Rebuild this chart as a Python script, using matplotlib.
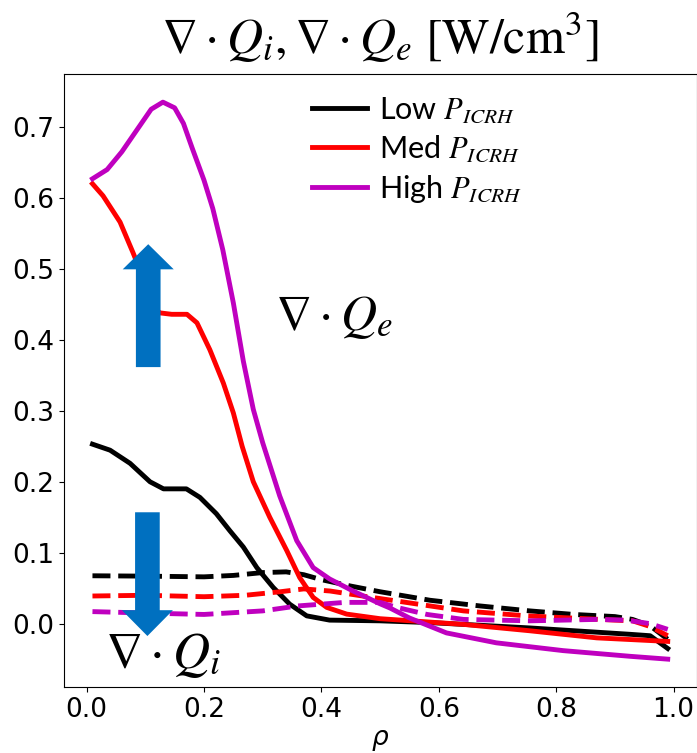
import matplotlib
matplotlib.use("Agg")
import matplotlib.pyplot as plt
from matplotlib.patches import FancyArrow

# ---- data ----
rho_low = [0.01, 0.04, 0.074, 0.108, 0.131, 0.17, 0.193, 0.221, 0.244, 0.267, 0.29, 0.318,
           0.346, 0.375, 0.414, 0.5, 0.585, 0.755, 0.926, 0.96, 0.99]
qe_low = [0.253, 0.2445, 0.226, 0.200, 0.190, 0.190, 0.178, 0.155, 0.131, 0.108, 0.079, 0.051,
          0.0275, 0.011, 0.005, 0.004, 0.0015, -0.006, -0.015, -0.017, -0.035]

rho_med = [0.01, 0.028, 0.057, 0.079, 0.10, 0.115, 0.125, 0.145, 0.171, 0.188, 0.21, 0.233,
           0.25, 0.265, 0.284, 0.312, 0.341, 0.363, 0.386, 0.409, 0.443, 0.5, 0.642, 0.755,
           0.869, 0.99]
qe_med = [0.620, 0.603, 0.566, 0.523, 0.48, 0.445, 0.438, 0.436, 0.436, 0.424, 0.386, 0.339,
          0.297, 0.250, 0.200, 0.150, 0.103, 0.065, 0.037, 0.023, 0.0135, 0.007, -0.001, -0.010,
          -0.020, -0.025]

rho_high = [0.01, 0.035, 0.06, 0.085, 0.11, 0.13, 0.15, 0.165, 0.18, 0.20, 0.215, 0.232, 0.25,
            0.267, 0.284, 0.30, 0.329, 0.358, 0.386, 0.414, 0.454, 0.5, 0.517, 0.55,
            0.613, 0.698, 0.812, 0.926, 0.99]
qe_high = [0.627, 0.640, 0.665, 0.695, 0.725, 0.735, 0.727, 0.705, 0.670, 0.625, 0.585, 0.527,
           0.452, 0.370, 0.302, 0.255, 0.180, 0.117, 0.079, 0.063, 0.046, 0.028, 0.022,
           0.008, -0.013, -0.027, -0.038, -0.046, -0.050]

rho_low_i = [0.01, 0.1, 0.2, 0.25, 0.3, 0.34, 0.37, 0.4, 0.45, 0.5, 0.585, 0.67, 0.755, 0.83,
             0.9, 0.93, 0.96, 0.99]
qi_low = [0.0675, 0.067, 0.066, 0.068, 0.072, 0.073, 0.069, 0.062, 0.053, 0.045, 0.033, 0.025,
          0.018, 0.013, 0.010, 0.006, -0.003, -0.022]

rho_med_i = [0.01, 0.1, 0.2, 0.27, 0.33, 0.37, 0.415, 0.47, 0.528, 0.642, 0.75, 0.812, 0.9,
             0.93, 0.96, 0.99]
qi_med = [0.039, 0.040, 0.038, 0.040, 0.045, 0.049, 0.046, 0.039, 0.032, 0.018, 0.011, 0.0085,
          0.005, 0.004, -0.004, -0.017]

rho_high_i = [0.01, 0.1, 0.2, 0.3, 0.36, 0.44, 0.5, 0.528, 0.58, 0.642, 0.755, 0.869, 0.92,
              0.96, 0.99]
qi_high = [0.017, 0.015, 0.013, 0.018, 0.025, 0.030, 0.030, 0.023, 0.013, 0.006, 0.004, 0.006,
           0.005, 0.0, -0.008]

labels = ["Low $P_{ICRH}$", "Med $P_{ICRH}$", "High $P_{ICRH}$"]
colors = ["k", "r", "m"]

fig = plt.figure(figsize=(6.97, 7.53), dpi=100)
ax = fig.add_axes([63.7 / 697, 66 / 753, 632.8 / 697, 612.7 / 753])

series = [(rho_low, qe_low, rho_low_i, qi_low),
          (rho_med, qe_med, rho_med_i, qi_med),
          (rho_high, qe_high, rho_high_i, qi_high)]
handles = []
for (re, qe, ri, qi), c, lab in zip(series, colors, labels):
    h, = ax.plot(re, qe, color=c, lw=3.5, label=lab)
    ax.plot(ri, qi, color=c, lw=3.5, ls="--")
    handles.append(h)

ax.set_xticks([0.0, 0.2, 0.4, 0.6, 0.8, 1.0])
ax.set_yticks([0.0, 0.1, 0.2, 0.3, 0.4, 0.5, 0.6, 0.7])
ax.tick_params(labelsize=19)
ax.set_xlabel(r"$\rho$", fontsize=19, labelpad=3)

# arrows
blue = "#0070C0"
ax.add_patch(FancyArrow(0.105, 0.3616, 0, 0.5348 - 0.3616, width=0.042, head_width=0.0869,
                        head_length=0.0354, length_includes_head=True, color=blue, lw=0, zorder=5))
ax.add_patch(FancyArrow(0.1036, 0.157, 0, -0.0174 - 0.157, width=0.042, head_width=0.0869,
                        head_length=0.0364, length_includes_head=True, color=blue, lw=0, zorder=5))

ax.text(0.321, 0.414, r"$\nabla\cdot Q_e$", fontsize=36, math_fontfamily="stix",
        ha="left", va="baseline")
ax.text(0.031, -0.063, r"$\nabla\cdot Q_i$", fontsize=37, math_fontfamily="stix",
        ha="left", va="baseline")

fig.text(380 / 697, 1 - 54 / 753, r"$\nabla\cdot Q_i, \nabla\cdot Q_e\ [\mathrm{W/cm}^3]$",
         fontsize=36, math_fontfamily="stix", ha="center", va="baseline")

leg = ax.legend(handles=handles, loc="upper left", bbox_to_anchor=(0.358, 1.0), frameon=False,
                prop={"family": "Lato", "size": 22}, handlelength=1.8, handletextpad=0.42,
                labelspacing=0.28, borderpad=0.2)
for t in leg.get_texts():
    t.set_math_fontfamily("stix")

fig.savefig("out.png", dpi=100)
